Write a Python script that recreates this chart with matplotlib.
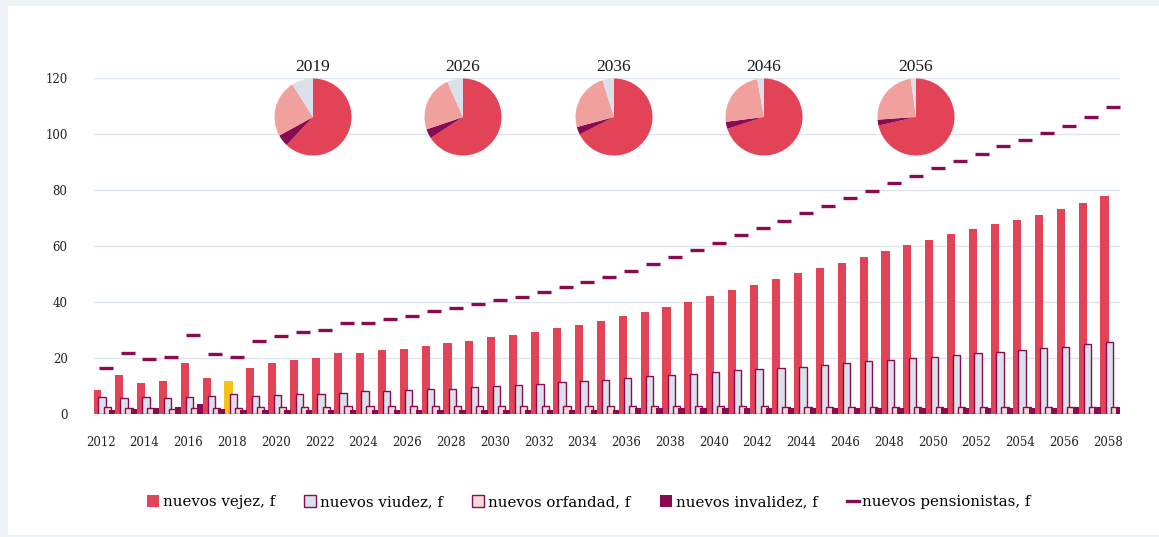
import matplotlib.pyplot as plt
from matplotlib.patches import Rectangle, Patch
from matplotlib.lines import Line2D
import numpy as np

years = list(range(2012, 2059))

vejez = [8.6, 13.9, 11.1, 11.7, 18.2, 12.9, 11.8, 16.5, 18.2, 19.3,
         19.9, 21.7, 21.7, 22.7, 23.3, 24.4, 25.2, 26.2, 27.4, 28.1,
         29.4, 30.6, 31.7, 33.1, 34.9, 36.3, 38.2, 40.1, 42.0, 44.4,
         46.2, 48.1, 50.2, 52.0, 54.1, 55.9, 58.2, 60.3, 62.1, 64.2,
         66.1, 67.7, 69.4, 71.2, 73.1, 75.5, 78.0]

viudez = [6.0, 5.7, 5.9, 5.7, 6.2, 6.5, 7.3, 6.5, 6.8, 7.0,
          7.3, 7.6, 8.1, 8.2, 8.5, 8.9, 9.1, 9.5, 9.9, 10.4,
          10.8, 11.4, 11.9, 12.2, 12.8, 13.5, 13.9, 14.4, 15.1, 15.6,
          16.0, 16.6, 16.9, 17.5, 18.1, 18.8, 19.2, 19.9, 20.4, 21.0,
          21.7, 22.3, 22.9, 23.5, 24.1, 25.0, 25.8]

orfandad = [2.4, 2.0, 2.0, 1.7, 2.0, 2.0, 2.0, 2.6, 2.6, 2.6,
            2.6, 2.8, 2.8, 2.8, 2.8, 2.8, 2.8, 2.8, 2.8, 2.8,
            2.8, 2.8, 2.8, 2.8, 2.8, 2.8, 2.8, 2.8, 2.8, 2.8,
            2.8, 2.5, 2.5, 2.5, 2.5, 2.5, 2.5, 2.5, 2.5, 2.5,
            2.5, 2.5, 2.5, 2.5, 2.5, 2.5, 2.5]

invalidez = [1.4, 1.7, 2.3, 2.4, 3.6, 1.7, 1.4, 1.6, 1.6, 1.6,
             1.6, 1.6, 1.6, 1.6, 1.6, 1.6, 1.6, 1.6, 1.6, 1.6,
             1.6, 1.6, 1.6, 1.6, 2.0, 2.0, 2.0, 2.0, 2.0, 2.0,
             2.0, 2.0, 2.0, 2.0, 2.0, 2.0, 2.0, 2.0, 2.0, 2.2,
             2.2, 2.2, 2.2, 2.2, 2.5, 2.5, 2.5]

pensionistas = [16.3, 21.7, 19.5, 20.2, 28.2, 21.4, 20.2, 26.0, 27.9, 29.3,
                30.0, 32.4, 32.4, 34.1, 35.1, 36.7, 38.0, 39.2, 40.8, 41.9,
                43.7, 45.5, 47.3, 49.1, 51.2, 53.7, 55.9, 58.4, 60.9, 64.1,
                66.5, 68.9, 71.8, 74.3, 77.2, 79.7, 82.6, 85.1, 88.0, 90.5,
                93.0, 95.6, 97.7, 100.2, 102.8, 106.0, 109.6]

highlight_year = 2018

# pies: share (%) of each type in a few years
pie_years = [2019, 2026, 2036, 2046, 2056]
pie_vejez = [62.0, 66.0, 67.5, 70.0, 71.4]
pie_invalidez = [5.0, 4.0, 3.3, 3.0, 2.5]
pie_viudez = [24.0, 23.6, 24.4, 24.2, 23.9]
pie_orfandad = [9.0, 6.7, 4.8, 2.8, 2.2]

rojo = '#e34357'
morado = '#8a0b52'
gris = '#dbe1ea'
rosa = '#f9d9d6'
salmon = '#f0a19d'
amarillo = '#f7c11a'
serif = 'DejaVu Serif'

W, H = 1159, 537
fig = plt.figure(figsize=(W / 100, H / 100), dpi=100)
fig.patch.set_facecolor('#eef2f6')
fig.patches.append(Rectangle((8 / W, 2 / H), 1 - 8 / W, 1 - 8 / H,
                             transform=fig.transFigure, facecolor='white',
                             edgecolor='none', zorder=-10))

ax = fig.add_axes([94 / W, 1 - 414 / H, (1120 - 94) / W, (414 - 78) / H])
ax.set_facecolor('none')

x = np.array(years)
colores = [amarillo if y == highlight_year else rojo for y in years]
ax.bar(x - 0.16, vejez, width=0.37, color=colores, zorder=3)
ax.bar(x + 0.07, viudez, width=0.33, color=gris, edgecolor=morado, linewidth=1.0, zorder=4)
ax.bar(x + 0.30, orfandad, width=0.33, color=rosa, edgecolor=morado, linewidth=1.0, zorder=5)
ax.bar(x + 0.53, invalidez, width=0.29, color=morado, zorder=6)
ax.plot(x + 0.23, pensionistas, linestyle='none', marker='_', markersize=9.5,
        markeredgewidth=2.4, color=morado, zorder=7)

ax.set_xlim(2011.7, 2058.55)
ax.set_ylim(0, 120)
ax.set_yticks(range(0, 121, 20))
ax.set_xticks(years[::2])
for s in ax.spines.values():
    s.set_visible(False)
ax.tick_params(axis='both', length=0, labelsize=8.5, labelcolor='#222222')
ax.tick_params(axis='y', pad=19)
ax.tick_params(axis='x', pad=16)
for lab in ax.get_xticklabels() + ax.get_yticklabels():
    lab.set_fontfamily(serif)
ax.yaxis.grid(True, color='#dde5ee', linewidth=1.0, zorder=0)
ax.set_axisbelow(True)
ax.axhline(0, color='#d2d4da', linewidth=2.5, zorder=2)

# pies arriba
pie_x = [313, 463, 614, 764, 916]
r = 38.5
for i in range(len(pie_years)):
    cx, cy = pie_x[i], 117
    pax = fig.add_axes([(cx - r) / W, 1 - (cy + r) / H, 2 * r / W, 2 * r / H])
    pax.pie([pie_vejez[i], pie_invalidez[i], pie_viudez[i], pie_orfandad[i]],
            colors=[rojo, morado, salmon, gris], startangle=90, counterclock=False,
            wedgeprops={'linewidth': 0})
    pax.set_xlim(-1, 1)
    pax.set_ylim(-1, 1)
    pax.set_aspect('equal')
    fig.text(cx / W, 1 - 67 / H, str(pie_years[i]), ha='center', va='center',
             fontsize=12.5, family='Liberation Serif', color='#1a1a1a')

handles = [
    Patch(facecolor=rojo, edgecolor='none'),
    Patch(facecolor=gris, edgecolor=morado, linewidth=1.0),
    Patch(facecolor=rosa, edgecolor=morado, linewidth=1.0),
    Patch(facecolor=morado, edgecolor='none'),
    Line2D([], [], color=morado, linewidth=2.4),
]
labels = ['nuevos vejez, f', 'nuevos viudez, f', 'nuevos orfandad, f',
          'nuevos invalidez, f', 'nuevos pensionistas, f']
fig.legend(handles, labels, loc='center', bbox_to_anchor=(589 / W, 1 - 502 / H),
           ncol=5, frameon=False, handlelength=0.8, handleheight=0.8,
           handletextpad=0.25, columnspacing=1.95,
           prop={'family': serif, 'size': 10.8})

fig.savefig('out.png', dpi=100, facecolor=fig.get_facecolor())
